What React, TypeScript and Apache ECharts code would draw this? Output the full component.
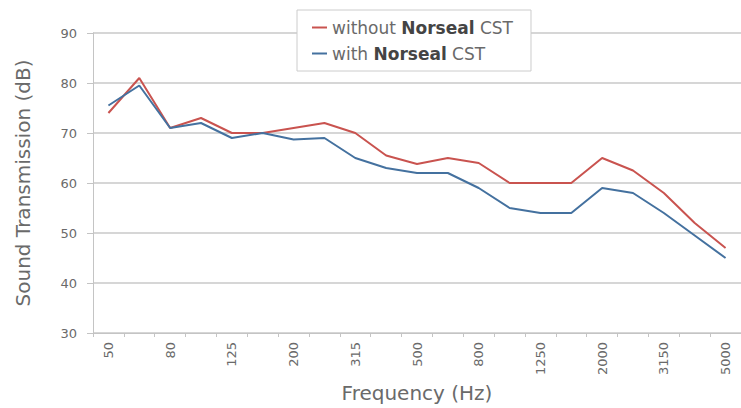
import React, { useEffect, useRef } from "react";
import * as echarts from "echarts";

const categories = ["50", "63", "80", "100", "125", "160", "200", "250", "315", "400", "500", "630", "800", "1000", "1250", "1600", "2000", "2500", "3150", "4000", "5000"];
const withoutNorseal = [74, 81, 71, 73, 70, 70, 71, 72, 70, 65.5, 63.8, 65, 64, 60, 60, 60, 65, 62.5, 58, 52, 47];
const withNorseal = [75.5, 79.5, 71, 72, 69, 70, 68.7, 69, 65, 63, 62, 62, 59, 55, 54, 54, 59, 58, 54, 49.5, 45];
const yTicks = { min: 30, max: 90, interval: 10 };

const FONT = "DejaVu Sans";
const TEXT = "#6a6a6a";

export default function App() {
  const ref = useRef<HTMLDivElement>(null);
  useEffect(() => {
    if (!ref.current) return;
    const chart = echarts.init(ref.current, null, { renderer: "svg" });
    chart.setOption({
      animation: false,
      backgroundColor: "#ffffff",
      textStyle: { fontFamily: FONT },
      grid: { left: 93, right: 0, top: 33, bottom: 69, containLabel: false },
      legend: {
        orient: "vertical",
        left: 297,
        top: 10,
        padding: [9, 18, 9, 15],
        itemGap: 9,
        itemWidth: 15,
        itemHeight: 2,
        icon: "rect",
        backgroundColor: "#ffffff",
        borderColor: "#cccccc",
        borderWidth: 1,
        borderRadius: 0,
        data: ["without Norseal CST", "with Norseal CST"],
        formatter: (name: string) =>
          name === "without Norseal CST"
            ? "{n|without }{b|Norseal}{n| CST}"
            : "{n|with }{b|Norseal}{n| CST}",
        textStyle: {
          fontFamily: FONT,
          fontSize: 17,
          color: TEXT,
          rich: {
            n: { fontFamily: FONT, fontSize: 17, color: TEXT },
            b: { fontFamily: FONT, fontSize: 17, color: "#444444", fontWeight: "bold" },
          },
        },
      },
      xAxis: {
        type: "category",
        data: categories,
        boundaryGap: true,
        name: "Frequency (Hz)",
        nameLocation: "middle",
        nameGap: 47,
        nameTextStyle: { fontFamily: FONT, fontSize: 20, color: TEXT },
        axisLine: { show: true, lineStyle: { color: "#c4c4c4", width: 1 } },
        axisTick: { show: true, interval: 0, length: 4, lineStyle: { color: "#c4c4c4" } },
        axisLabel: {
          interval: 1,
          rotate: 90,
          margin: 9,
          fontFamily: FONT,
          fontSize: 13,
          color: TEXT,
        },
        splitLine: { show: false },
      },
      yAxis: {
        type: "value",
        min: yTicks.min,
        max: yTicks.max,
        interval: yTicks.interval,
        name: "Sound Transmission (dB)",
        nameLocation: "middle",
        nameGap: 60,
        nameRotate: 90,
        nameTextStyle: { fontFamily: FONT, fontSize: 20, color: TEXT },
        axisLine: { show: true, lineStyle: { color: "#c4c4c4", width: 1 } },
        axisTick: { show: true, length: 6, lineStyle: { color: "#c4c4c4" } },
        axisLabel: { margin: 16, fontFamily: FONT, fontSize: 13, color: TEXT },
        splitLine: { show: true, lineStyle: { color: "#c8c8c8", width: 1.5 } },
      },
      series: [
        {
          name: "without Norseal CST",
          type: "line",
          data: withoutNorseal,
          symbol: "none",
          lineStyle: { color: "#c9534f", width: 2 },
          itemStyle: { color: "#c9534f" },
        },
        {
          name: "with Norseal CST",
          type: "line",
          data: withNorseal,
          symbol: "none",
          lineStyle: { color: "#44719f", width: 2 },
          itemStyle: { color: "#44719f" },
        },
      ],
    });
    return () => chart.dispose();
  }, []);
  return <div ref={ref} style={{ width: 741, height: 408, position: "absolute", left: 0, top: 0 }} />;
}
